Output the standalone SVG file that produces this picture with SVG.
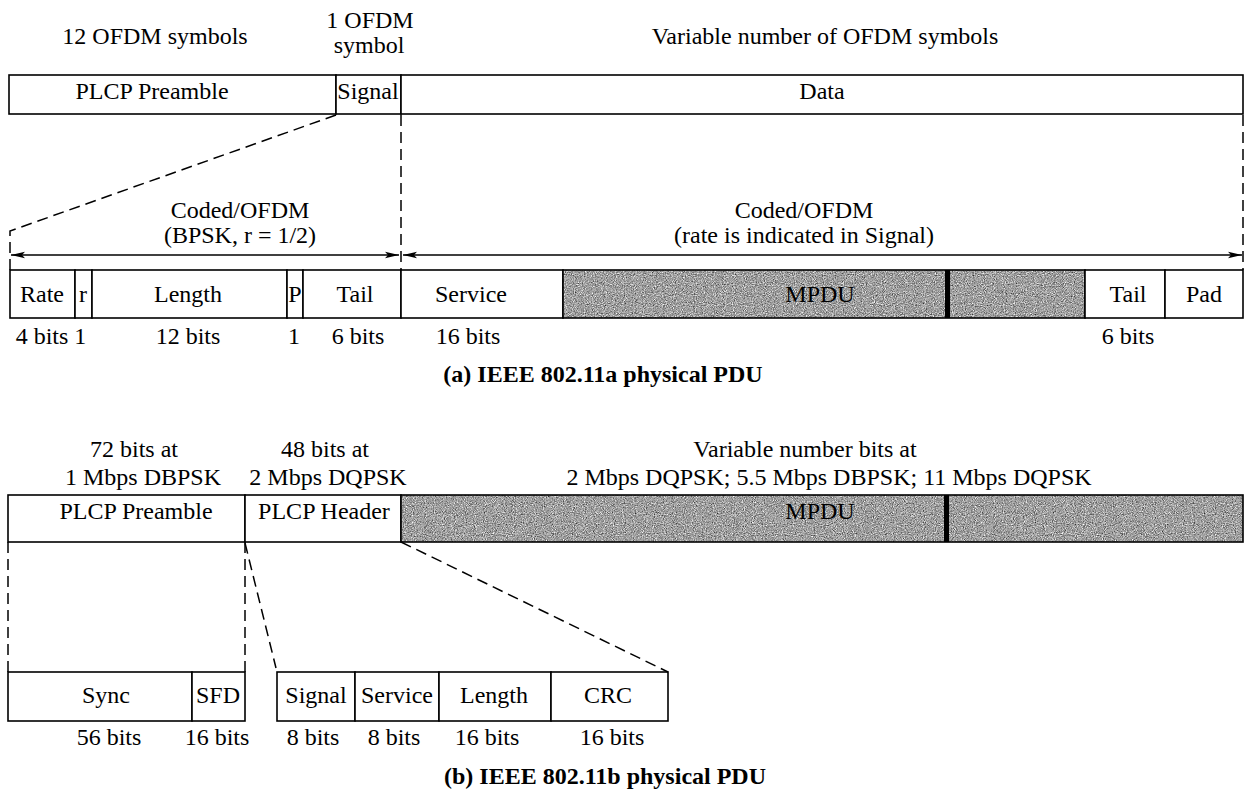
<svg xmlns="http://www.w3.org/2000/svg" width="1247" height="795" viewBox="0 0 1247 795">
<style>
  .box { fill: #fff; stroke: #000; stroke-width: 1.6; }
  .bar { fill: #000; }
  .t { font-family: 'Liberation Serif', 'Times New Roman', Tinos, 'Nimbus Roman', 'DejaVu Serif', 'Noto Serif', FreeSerif, serif; font-size: 24px; fill: #000; text-anchor: middle; }
  .cap { font-family: 'Liberation Serif', 'Times New Roman', Tinos, 'Nimbus Roman', 'DejaVu Serif', 'Noto Serif', FreeSerif, serif; font-size: 24px; font-weight: bold; fill: #000; text-anchor: middle; }
  .dash { fill: none; stroke: #000; stroke-width: 1.5; stroke-dasharray: 11 6; }
  .arr { stroke: #000; stroke-width: 1.6; fill: none; marker-start: url(#ah); marker-end: url(#ah); }
</style>
<defs>
  <marker id="ah" viewBox="0 0 14 8" refX="14" refY="4" markerWidth="14" markerHeight="8" markerUnits="userSpaceOnUse" orient="auto-start-reverse">
    <path d="M0,0.8 L14,4 L0,7.2 L3,4 Z" fill="#000"/>
  </marker>
  <filter id="grain" x="0" y="0" width="100%" height="100%" color-interpolation-filters="sRGB">
    <feTurbulence type="fractalNoise" baseFrequency="0.9" numOctaves="2" seed="7"/>
    <feColorMatrix type="matrix" values="0.33 0.33 0.33 0 0  0.33 0.33 0.33 0 0  0.33 0.33 0.33 0 0  0 0 0 0 1"/>
    <feComponentTransfer>
      <feFuncR type="linear" slope="1.8" intercept="-0.27"/>
      <feFuncG type="linear" slope="1.8" intercept="-0.27"/>
      <feFuncB type="linear" slope="1.8" intercept="-0.27"/>
    </feComponentTransfer>
    <feComposite in2="SourceGraphic" operator="in"/>
  </filter>
</defs>

<!-- ===== (a) IEEE 802.11a ===== -->
<g id="a-headings">
  <text class="t" x="155" y="44">12 OFDM symbols</text>
  <text class="t" x="370" y="28">1 OFDM</text>
  <text class="t" x="369" y="53">symbol</text>
  <text class="t" x="825" y="44">Variable number of OFDM symbols</text>
</g>
<g id="a-plcp-preamble">
  <rect class="box" x="9" y="75" width="327" height="39"/>
  <text class="t" x="152" y="99">PLCP Preamble</text>
</g>
<g id="a-signal">
  <rect class="box" x="336" y="75" width="65" height="39"/>
  <text class="t" x="368" y="99">Signal</text>
</g>
<g id="a-data">
  <rect class="box" x="401" y="75" width="842" height="39"/>
  <text class="t" x="822" y="99">Data</text>
</g>

<g id="a-coded-labels">
  <text class="t" x="240" y="218">Coded/OFDM</text>
  <text class="t" x="240" y="243">(BPSK, r = 1/2)</text>
  <text class="t" x="804" y="218">Coded/OFDM</text>
  <text class="t" x="804" y="243">(rate is indicated in Signal)</text>
</g>

<g id="a-rate"><rect class="box" x="10" y="270" width="65" height="48"/><text class="t" x="42" y="302">Rate</text></g>
<g id="a-r"><rect class="box" x="75" y="270" width="17" height="48"/><text class="t" x="83" y="302">r</text></g>
<g id="a-length"><rect class="box" x="92" y="270" width="195" height="48"/><text class="t" x="188" y="302">Length</text></g>
<g id="a-p"><rect class="box" x="287" y="270" width="16" height="48"/><text class="t" x="295" y="302">P</text></g>
<g id="a-tail1"><rect class="box" x="303" y="270" width="98" height="48"/><text class="t" x="355" y="302">Tail</text></g>
<g id="a-service"><rect class="box" x="401" y="270" width="162" height="48"/><text class="t" x="471" y="302">Service</text></g>
<g id="a-mpdu">
  <rect x="563" y="270" width="522" height="48" fill="#a6a6a6" filter="url(#grain)"/>
  <rect x="563" y="270" width="522" height="48" fill="none" stroke="#000" stroke-width="1.6"/>
  <rect class="bar" x="945" y="270" width="5" height="48"/>
  <text class="t" x="820" y="302">MPDU</text>
</g>
<g id="a-tail2"><rect class="box" x="1085" y="270" width="80" height="48"/><text class="t" x="1128" y="302">Tail</text></g>
<g id="a-pad"><rect class="box" x="1165" y="270" width="78" height="48"/><text class="t" x="1204" y="302">Pad</text></g>

<g id="a-bit-labels">
  <text class="t" x="51" y="344">4 bits 1</text>
  <text class="t" x="188" y="344">12 bits</text>
  <text class="t" x="294" y="344">1</text>
  <text class="t" x="358" y="344">6 bits</text>
  <text class="t" x="468" y="344">16 bits</text>
  <text class="t" x="1128" y="344">6 bits</text>
</g>
<text class="cap" x="603" y="382">(a)  IEEE 802.11a physical PDU</text>

<!-- ===== (b) IEEE 802.11b ===== -->
<g id="b-headings">
  <text class="t" x="134" y="457">72 bits at</text>
  <text class="t" x="143" y="485">1 Mbps DBPSK</text>
  <text class="t" x="325" y="457">48 bits at</text>
  <text class="t" x="328" y="485">2 Mbps DQPSK</text>
  <text class="t" x="805" y="457">Variable number bits at</text>
  <text class="t" x="829" y="485">2 Mbps DQPSK; 5.5 Mbps DBPSK; 11 Mbps DQPSK</text>
</g>
<g id="b-plcp-preamble"><rect class="box" x="8" y="495" width="237" height="47"/><text class="t" x="136" y="519">PLCP Preamble</text></g>
<g id="b-plcp-header"><rect class="box" x="245" y="495" width="156" height="47"/><text class="t" x="324" y="519">PLCP Header</text></g>
<g id="b-mpdu">
  <rect x="401" y="495" width="842" height="47" fill="#a6a6a6" filter="url(#grain)"/>
  <rect x="401" y="495" width="842" height="47" fill="none" stroke="#000" stroke-width="1.6"/>
  <rect class="bar" x="944" y="495" width="5" height="47"/>
  <text class="t" x="820" y="519">MPDU</text>
</g>

<g id="b-sync"><rect class="box" x="8" y="672" width="184" height="49"/><text class="t" x="106" y="703">Sync</text></g>
<g id="b-sfd"><rect class="box" x="192" y="672" width="53" height="49"/><text class="t" x="218" y="703">SFD</text></g>
<g id="b-signal"><rect class="box" x="277" y="672" width="78" height="49"/><text class="t" x="316" y="703">Signal</text></g>
<g id="b-service"><rect class="box" x="355" y="672" width="84" height="49"/><text class="t" x="397" y="703">Service</text></g>
<g id="b-length"><rect class="box" x="439" y="672" width="112" height="49"/><text class="t" x="494" y="703">Length</text></g>
<g id="b-crc"><rect class="box" x="551" y="672" width="117" height="49"/><text class="t" x="608" y="703">CRC</text></g>

<g id="b-bit-labels">
  <text class="t" x="109" y="745">56 bits</text>
  <text class="t" x="217" y="745">16 bits</text>
  <text class="t" x="313" y="745">8 bits</text>
  <text class="t" x="394" y="745">8 bits</text>
  <text class="t" x="487" y="745">16 bits</text>
  <text class="t" x="612" y="745">16 bits</text>
</g>
<text class="cap" x="605" y="784">(b)  IEEE 802.11b physical PDU</text>

<!-- ===== connectors ===== -->
<g id="connectors">
  <polyline class="dash" points="336,115 10,231 10,270"/>
  <line class="dash" x1="401" y1="115" x2="401" y2="270"/>
  <line class="dash" x1="1243" y1="115" x2="1243" y2="270"/>
  <line class="arr" x1="11" y1="255" x2="399" y2="255"/>
  <line class="arr" x1="403" y1="255" x2="1242" y2="255"/>
  <line class="dash" x1="8" y1="542" x2="8" y2="672"/>
  <line class="dash" x1="245" y1="542" x2="245" y2="672"/>
  <line class="dash" x1="245" y1="543" x2="276" y2="668"/>
  <line class="dash" x1="401" y1="542" x2="668" y2="672"/>
</g>
</svg>
